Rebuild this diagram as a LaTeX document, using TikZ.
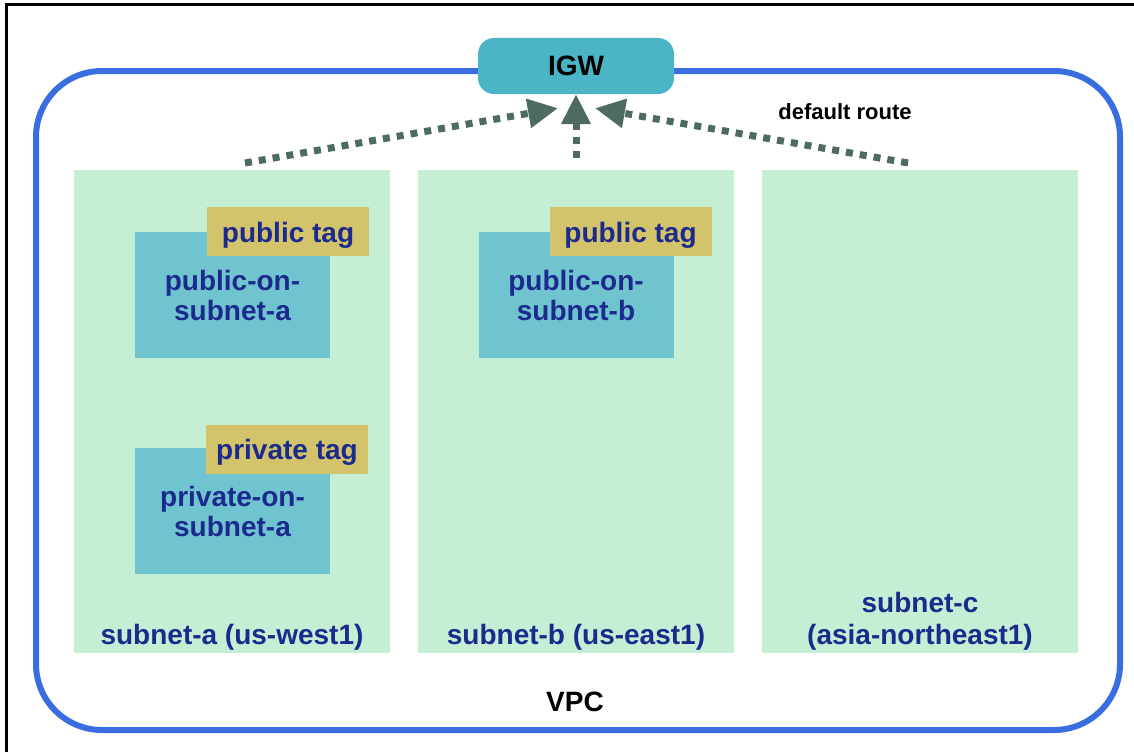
\documentclass[tikz,border=0pt]{standalone}
\usepackage{fontspec}
\setmainfont{Liberation Sans}
\usetikzlibrary{arrows.meta,positioning,calc}
\definecolor{vpcblue}{HTML}{3A6EE0}
\definecolor{igwteal}{HTML}{4BB4C5}
\definecolor{subgreen}{HTML}{C5EFD4}
\definecolor{instteal}{HTML}{70C4D0}
\definecolor{tagolive}{HTML}{D3C46B}
\definecolor{navy}{HTML}{1B2A8C}
\definecolor{routegray}{HTML}{4D6B63}
\tikzset{
  vpcbox/.style={
    draw=vpcblue, line width=6pt, rounded corners=66pt,
    minimum width=1084pt, minimum height=659pt, inner sep=0pt
  },
  gateway/.style={
    fill=igwteal, rounded corners=16pt, inner sep=0pt,
    minimum width=196pt, minimum height=56pt,
    font=\fontsize{28}{30}\selectfont\bfseries
  },
  subnetbox/.style={
    fill=subgreen, inner sep=0pt,
    minimum width=316pt, minimum height=483pt
  },
  instbox/.style={
    fill=instteal, inner sep=0pt, align=center, text=navy,
    minimum width=195pt, minimum height=126pt,
    font=\fontsize{28}{30}\selectfont\bfseries
  },
  tagbox/.style={
    fill=tagolive, inner sep=0pt, text=navy,
    minimum width=162pt, minimum height=49pt,
    text height=21pt, text depth=0pt,
    font=\fontsize{28}{30}\selectfont\bfseries
  },
  sublabel/.style={
    text=navy, align=center, font=\fontsize{28}{32}\selectfont\bfseries
  },
  route/.style={
    draw=routegray, line width=7pt, dash pattern=on 7pt off 7pt,
    -{Triangle[length=30pt, width=28pt]}
  },
}

\begin{document}
\begin{tikzpicture}[x=1pt, y=-1pt]
  \useasboundingbox (0,0) rectangle (1134,752);
  % frame
  \draw[line width=3pt] (6,752) -- (6,5) -- (1134,5);

  % VPC and gateway
  \node[vpcbox, anchor=north west] (vpc) at (33,68) {};
  \node[gateway] (igw) at (576,66) {IGW};
  \node[font=\fontsize{28}{30}\selectfont\bfseries] (vpclabel) at (575,702) {VPC};

  % subnets
  \node[subnetbox, anchor=north west] (subA) at (74,170) {};
  \node[subnetbox, anchor=north west] (subB) at (418,170) {};
  \node[subnetbox, anchor=north west] (subC) at (762,170) {};
  \node[sublabel] (subAlabel) at (232,637) {subnet-a (us-west1)};
  \node[sublabel] (subBlabel) at (576,637) {subnet-b (us-east1)};
  \node[sublabel] (subClabel) at (920,621) {subnet-c\\(asia-northeast1)};

  % instances with their tags
  \node[instbox] (pubA) at (232.5,295) {public-on-\\subnet-a};
  \node[tagbox] (pubAtag) at (288,231.5) {public tag};
  \node[instbox] (privA) at (232.5,511) {private-on-\\subnet-a};
  \node[tagbox] (privAtag) at (287,449) {private tag};
  \node[instbox] (pubB) at (576,295) {public-on-\\subnet-b};
  \node[tagbox] (pubBtag) at (630.5,231.5) {public tag};

  % default routes
  \coordinate (fromA) at (245,163);
  \coordinate (fromB) at (576,158);
  \coordinate (fromC) at (908,163);
  \draw[route] (fromA) -- ($(igw.south)+(-18,14)$);
  \draw[route] (fromB) -- (igw.south);
  \draw[route] (fromC) -- ($(igw.south)+(19,14)$);
  \node[font=\fontsize{22}{24}\selectfont\bfseries] (routelabel) at (845,112) {default route};
\end{tikzpicture}
\end{document}
